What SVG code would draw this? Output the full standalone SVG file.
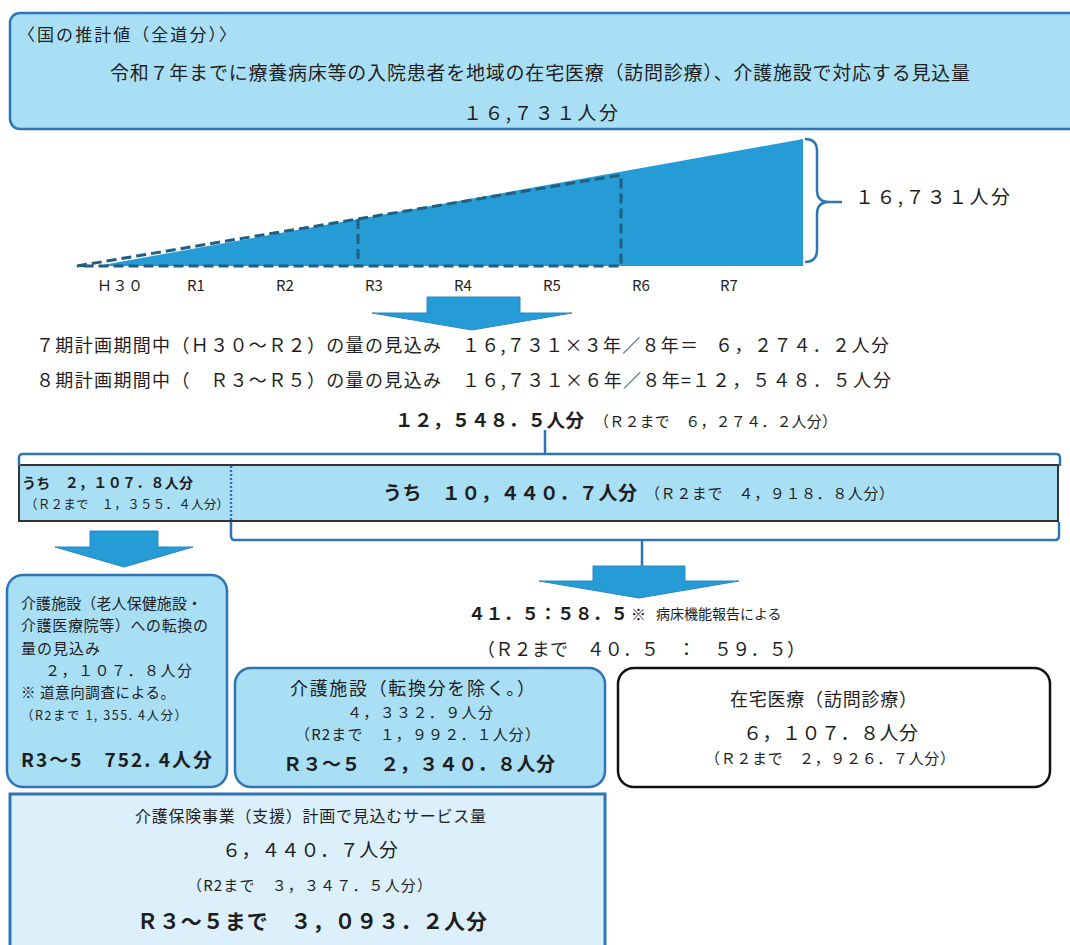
<svg xmlns="http://www.w3.org/2000/svg" width="1070" height="945" viewBox="0 0 1070 945">
<style>
text { font-family: "Noto Sans CJK JP", "Noto Sans", sans-serif; fill: #1e1e1e; }
.b { font-weight: bold; }
.box { fill: #a9dff5; stroke: #2e75b6; stroke-width: 2.5; }
.arrow { fill: #269cd7; stroke: #2b86c5; stroke-width: 1; }
.brk { fill: none; stroke: #2e75b6; stroke-width: 2.5; }
.dash { fill: none; stroke: #215f80; stroke-width: 3; stroke-dasharray: 10 5; }
.lbl { font-size: 15px; }
</style>
<rect width="1070" height="945" fill="#ffffff"/>

<g id="national-estimate">
  <rect x="10" y="13" width="1080" height="116" rx="10" class="box"/>
  <text x="18" y="41" font-size="17" textLength="218">〈国の推計値（全道分）〉</text>
  <text x="110" y="80" font-size="19" textLength="860">令和７年までに療養病床等の入院患者を地域の在宅医療（訪問診療）、介護施設で対応する見込量</text>
  <text x="463" y="120" font-size="19" textLength="155">１６,７３１人分</text>
</g>

<g id="chart">
  <polygon points="97,266 803,139 803,266" fill="#259cd6"/>
  <path d="M77,266 L621,175 L621,266 Z" class="dash"/>
  <path d="M358,219 V266" class="dash"/>
  <path d="M805,139 Q817,139 817,151 V190 Q817,202 829,202 H842 M829,202 Q817,202 817,214 V250 Q817,262 805,262" class="brk"/>
  <text x="855" y="204" font-size="19" textLength="155">１６,７３１人分</text>
  <text x="97" y="291" class="lbl" textLength="46">Ｈ３０</text>
  <text x="196" y="291" class="lbl" text-anchor="middle">R1</text>
  <text x="285" y="291" class="lbl" text-anchor="middle">R2</text>
  <text x="374" y="291" class="lbl" text-anchor="middle">R3</text>
  <text x="463" y="291" class="lbl" text-anchor="middle">R4</text>
  <text x="552" y="291" class="lbl" text-anchor="middle">R5</text>
  <text x="641" y="291" class="lbl" text-anchor="middle">R6</text>
  <text x="729" y="291" class="lbl" text-anchor="middle">R7</text>
</g>

<g id="calculation">
  <text x="36" y="352" font-size="18" textLength="405">７期計画期間中（Ｈ３０～Ｒ２）の量の見込み</text>
  <text x="462" y="352" font-size="18" textLength="236">１６,７３１×３年／８年＝</text>
  <text x="715" y="352" font-size="18" textLength="174">６，２７４．２人分</text>
  <text x="36" y="387" font-size="18" textLength="405">８期計画期間中（　Ｒ３～Ｒ５）の量の見込み</text>
  <text x="462" y="387" font-size="18" textLength="229">１６,７３１×６年／８年=</text>
  <text x="692" y="387" font-size="18" textLength="199">１２，５４８．５人分</text>
  <text x="395" y="427" font-size="18.5" class="b" textLength="189">１２，５４８．５人分</text>
  <text x="594" y="427" font-size="15" textLength="243">（Ｒ２まで　６，２７４．２人分）</text>
</g>

<g id="breakdown-bar">
  <rect x="19" y="465" width="1039" height="56" fill="#a9dff5" stroke="#333333" stroke-width="2"/>
  <line x1="231" y1="466" x2="231" y2="520" stroke="#2e75b6" stroke-width="2.5" stroke-dasharray="2 2"/>
  <text x="22" y="488" font-size="14" class="b" textLength="171">うち　２，１０７．８人分</text>
  <text x="25" y="509" font-size="12.5" textLength="204">（Ｒ２まで　１，３５５．４人分）</text>
  <text x="383" y="500" font-size="19" class="b" textLength="254">うち　１０，４４０．７人分</text>
  <text x="645" y="499" font-size="15" textLength="249">（Ｒ２まで　４，９１８．８人分）</text>
</g>

<g id="ratio">
  <text x="468" y="620" font-size="17.5" class="b" textLength="160">４１．５：５８．５</text>
  <text x="631" y="620" font-size="15" class="b">※</text>
  <text x="656" y="619" font-size="14">病床機能報告による</text>
  <text x="477" y="656" font-size="18" textLength="328">（Ｒ２まで　４０．５　：　５９．５）</text>
</g>

<g id="conversion-box">
  <rect x="7" y="575" width="220" height="212" rx="16" class="box"/>
  <text x="21" y="609" font-size="15" textLength="181">介護施設（老人保健施設・</text>
  <text x="21" y="631" font-size="15" textLength="187">介護医療院等）への転換の</text>
  <text x="21" y="654" font-size="15" textLength="79">量の見込み</text>
  <text x="45" y="676" font-size="15" textLength="147">２，１０７．８人分</text>
  <text x="21" y="698" font-size="14.5" textLength="154">※ 道意向調査による。</text>
  <text x="21" y="720" font-size="12.5" textLength="166">（R2まで 1, 355. 4人分）</text>
  <text x="21" y="767" font-size="19" class="b" textLength="191">R3～5　752. 4人分</text>
</g>

<g id="care-facility-box">
  <rect x="235" y="668" width="370" height="119" rx="16" class="box"/>
  <text x="290" y="695" font-size="18" textLength="245">介護施設（転換分を除く。）</text>
  <text x="347" y="718" font-size="15" textLength="146">４，３３２．９人分</text>
  <text x="295" y="740" font-size="15" textLength="245">（R2まで　１，９９２．１人分）</text>
  <text x="283" y="771" font-size="19" class="b" textLength="272">Ｒ３～５　２，３４０．８人分</text>
</g>

<g id="home-care-box">
  <rect x="618" y="668" width="432" height="119" rx="16" fill="#ffffff" stroke="#111111" stroke-width="2.5"/>
  <text x="730" y="706" font-size="18" textLength="187">在宅医療（訪問診療）</text>
  <text x="743" y="740" font-size="19" textLength="175">６，１０７．８人分</text>
  <text x="705" y="764" font-size="15" textLength="250">（Ｒ２まで　２，９２６．７人分）</text>
</g>

<g id="service-volume-box">
  <rect x="10" y="794" width="595" height="170" fill="#dcf0fb" stroke="#2e75b6" stroke-width="3"/>
  <text x="135" y="822" font-size="16" textLength="351">介護保険事業（支援）計画で見込むサービス量</text>
  <text x="222" y="857" font-size="19" textLength="176">６，４４０．７人分</text>
  <text x="187" y="891" font-size="15" textLength="245">（R2まで　３，３４７．５人分）</text>
  <text x="137" y="929" font-size="21" class="b" textLength="350">Ｒ３～５まで　３，０９３．２人分</text>
</g>

<g id="connectors">
  <polygon points="427,297 520,297 520,313 572,313 472,330 372,313 427,313" class="arrow"/>
  <path d="M545,430 V454" class="brk"/>
  <path d="M19,466 V458 Q19,454 23,454 H1056 Q1060,454 1060,458 V466" class="brk"/>
  <path d="M231,522 V536 Q231,540 235,540 H1055 Q1059,540 1059,536 V522" class="brk"/>
  <path d="M642,540 V566" class="brk"/>
  <polygon points="90,531 158,531 158,547 193,547 124,567 55,547 90,547" class="arrow"/>
  <polygon points="593,566 685,566 685,581 739,581 639,598 539,581 593,581" class="arrow"/>
</g>
</svg>
